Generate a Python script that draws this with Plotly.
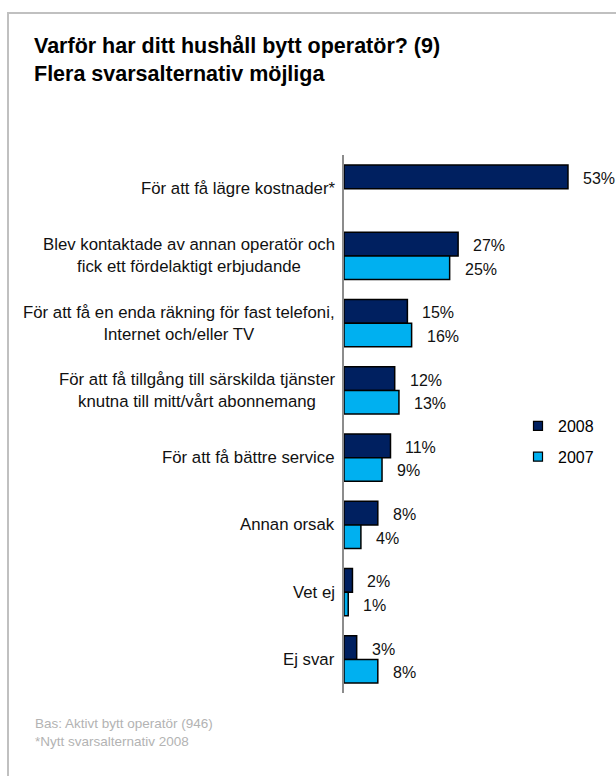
import plotly.graph_objects as go

# Survey data: reasons for switching operator (share of households, %)
categories = [
    "För att få lägre kostnader*",
    "Blev kontaktade av annan operatör och<br>fick ett fördelaktigt erbjudande",
    "För att få en enda räkning för fast telefoni,<br>Internet och/eller TV",
    "För att få tillgång till särskilda tjänster<br>knutna till mitt/vårt abonnemang",
    "För att få bättre service",
    "Annan orsak",
    "Vet ej",
    "Ej svar",
]
values_2008 = [53, 27, 15, 12, 11, 8, 2, 3]
values_2007 = [None, 25, 16, 13, 9, 4, 1, 8]
series_names = ["2008", "2007"]

title_lines = ["Varför har ditt hushåll bytt operatör? (9)", "Flera svarsalternativ möjliga"]
footnote_lines = ["Bas: Aktivt bytt operatör (946)", "*Nytt svarsalternativ 2008"]

# Layout constants (pixels)
FIG_W, FIG_H = 616, 776
M_L, M_R, M_T, M_B = 344, 13, 155, 83
PLOT_W = FIG_W - M_L - M_R
PLOT_H = FIG_H - M_T - M_B
X_MAX = PLOT_W / 4.226

FONT = "Liberation Sans, Arial, sans-serif"
DARK = "#002060"
LIGHT = "#00B0F0"


def px_x(px):
    return (px - M_L) / PLOT_W


def px_y(py):
    return (FIG_H - M_B - py) / PLOT_H


fig = go.Figure()
for name, vals, col in [(series_names[0], values_2008, DARK), (series_names[1], values_2007, LIGHT)]:
    fig.add_trace(go.Bar(
        y=categories, x=vals, name=name, orientation="h",
        marker=dict(color=col, line=dict(color="#000000", width=1.5)),
        showlegend=False, hoverinfo="skip",
    ))
    # legend entries with small square swatches
    fig.add_trace(go.Scatter(
        x=[None], y=[None], mode="markers", name=name, legendgroup=name,
        marker=dict(symbol="square", size=9, color=col, line=dict(color="#000000", width=1.2)),
    ))

annotations = []
# title block
annotations.append(dict(
    x=px_x(32), y=px_y(32), xref="paper", yref="paper", xanchor="left", yanchor="top",
    text="<br>".join(title_lines), showarrow=False, align="left",
    font=dict(family=FONT, size=21.5, color="#000000", weight="bold"),
))
# category labels, centred block anchored at the axis
for cat in categories:
    annotations.append(dict(
        x=0, xref="paper", y=cat, yref="y", xanchor="right", xshift=-7,
        text=cat, showarrow=False, align="center",
        font=dict(family=FONT, size=16.8, color="#111111"),
    ))
# value labels
for vals, shift in [(values_2008, 11.7), (values_2007, -11.7)]:
    for cat, v in zip(categories, vals):
        if v is None:
            continue
        annotations.append(dict(
            x=v, y=cat, xref="x", yref="y", xanchor="left", xshift=13, yshift=shift - 1.5,
            text=f"{v}%", showarrow=False,
            font=dict(family=FONT, size=16, color="#111111"),
        ))
# footnote
annotations.append(dict(
    x=px_x(33), y=px_y(714), xref="paper", yref="paper", xanchor="left", yanchor="top",
    text="<br>".join(footnote_lines), showarrow=False, align="left",
    font=dict(family=FONT, size=13.5, color="#b3b3b3"),
))

fig.update_layout(
    width=FIG_W, height=FIG_H,
    margin=dict(l=M_L, r=M_R, t=M_T, b=M_B),
    paper_bgcolor="#ffffff", plot_bgcolor="#ffffff",
    barmode="group", bargap=0.3, bargroupgap=0,
    xaxis=dict(range=[0, X_MAX], visible=False, fixedrange=True),
    yaxis=dict(
        autorange="reversed", showticklabels=False, ticks="",
        showgrid=False, zeroline=False,
        showline=True, linecolor="#8c8c8c", linewidth=2,
    ),
    legend=dict(
        x=px_x(518), y=px_y(409), xanchor="left", yanchor="top",
        font=dict(family=FONT, size=16, color="#000000"),
        tracegroupgap=7, bgcolor="rgba(0,0,0,0)",
    ),
    annotations=annotations,
    shapes=[dict(
        type="rect", xref="paper", yref="paper",
        x0=px_x(8), x1=px_x(FIG_W + 10), y0=px_y(FIG_H + 10), y1=px_y(13),
        line=dict(color="#c0c0c0", width=2), fillcolor="rgba(0,0,0,0)", layer="below",
    )],
)

fig.write_html("out.html")
